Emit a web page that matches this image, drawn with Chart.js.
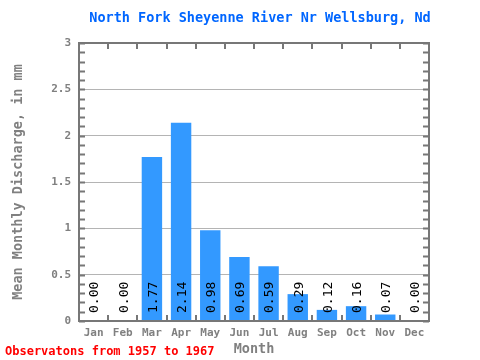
<!DOCTYPE html>
<html>
<head>
<meta charset="utf-8">
<script src="https://cdn.jsdelivr.net/npm/chart.js@4"></script>
<style>
  html, body { margin: 0; padding: 0; background: #fff; }
  #wrap { width: 480px; height: 360px; }
</style>
</head>
<body>
<div id="wrap"><canvas id="chart" width="480" height="360"></canvas></div>
<script>
const months = ['Jan', 'Feb', 'Mar', 'Apr', 'May', 'Jun', 'Jul', 'Aug', 'Sep', 'Oct', 'Nov', 'Dec'];
const discharge = [0.00, 0.00, 1.77, 2.14, 0.98, 0.69, 0.59, 0.29, 0.12, 0.16, 0.07, 0.00];
const yTicks = [0, 0.5, 1, 1.5, 2, 2.5, 3];

const titleText = 'North Fork Sheyenne River Nr Wellsburg, Nd';
const footText = 'Observatons from 1957 to 1967';
const mono = '"DejaVu Sans Mono", "Liberation Mono", monospace';
const axisGrey = '#777777';

// frame, minor ticks, bar values, title and footer
const extras = {
  id: 'extras',
  afterDatasetsDraw(chart) {
    const ctx = chart.ctx;
    const a = chart.chartArea;
    const y = chart.scales.y;

    ctx.save();
    ctx.strokeStyle = axisGrey;
    ctx.lineWidth = 2;
    // minor ticks every 0.1
    for (let i = 0; i <= 30; i++) {
      const py = Math.round(y.getPixelForValue(i / 10)) + 0.5;
      ctx.beginPath();
      ctx.moveTo(a.left, py); ctx.lineTo(a.left + 6, py);
      ctx.moveTo(a.right, py); ctx.lineTo(a.right - 6, py);
      ctx.stroke();
    }
    // category ticks
    const w = (a.right - a.left) / months.length;
    for (let i = 1; i < months.length; i++) {
      const px = Math.round(a.left + w * i);
      ctx.beginPath();
      ctx.moveTo(px, a.top); ctx.lineTo(px, a.top + 6);
      ctx.moveTo(px, a.bottom); ctx.lineTo(px, a.bottom - 6);
      ctx.stroke();
    }
    ctx.strokeRect(a.left, a.top, a.right - a.left, a.bottom - a.top);

    // bar values, read bottom to top
    const meta = chart.getDatasetMeta(0);
    ctx.fillStyle = '#000';
    ctx.font = '13px ' + mono;
    ctx.textAlign = 'left';
    ctx.textBaseline = 'middle';
    meta.data.forEach((bar, i) => {
      ctx.save();
      ctx.translate(bar.x + 1.5, a.bottom - 8);
      ctx.rotate(-Math.PI / 2);
      ctx.fillText(discharge[i].toFixed(2), 0, 0);
      ctx.restore();
    });

    // title
    ctx.fillStyle = '#0066ff';
    ctx.font = 'bold 13.5px ' + mono;
    ctx.textAlign = 'center';
    ctx.fillText(titleText, 260, 18);

    // footer
    ctx.fillStyle = '#ff0000';
    ctx.font = 'bold 12px ' + mono;
    ctx.textAlign = 'left';
    ctx.fillText(footText, 5, 352);
    ctx.restore();
  }
};

new Chart(document.getElementById('chart').getContext('2d'), {
  type: 'bar',
  data: {
    labels: months,
    datasets: [{
      data: discharge,
      backgroundColor: '#3399ff',
      borderWidth: 0,
      categoryPercentage: 0.7,
      barPercentage: 1
    }]
  },
  options: {
    responsive: false,
    animation: false,
    layout: { padding: { left: 0, top: 43, right: 51, bottom: 0 } },
    plugins: {
      legend: { display: false },
      tooltip: { enabled: false }
    },
    scales: {
      x: {
        afterFit: s => { s.height = 39; },
        grid: { display: false, drawTicks: false },
        border: { display: false },
        ticks: { color: '#808080', font: { family: mono, size: 11, weight: 'bold' }, padding: 6, maxRotation: 0 },
        title: { display: true, text: 'Month', color: '#808080', font: { family: mono, size: 13.5, weight: 'bold' }, padding: { top: 0, bottom: 2 } }
      },
      y: {
        min: 0,
        max: 3,
        afterFit: s => { s.width = 79; },
        afterBuildTicks: s => { s.ticks = yTicks.map(v => ({ value: v })); },
        grid: { color: '#b4b4b4', lineWidth: 1, drawTicks: false },
        border: { display: false },
        ticks: {
          color: '#808080',
          font: { family: mono, size: 11, weight: 'bold' },
          padding: 8,
          callback: v => String(v)
        },
        title: { display: true, text: 'Mean Monthly Discharge, in mm', color: '#808080', font: { family: mono, size: 13.5, weight: 'bold' }, padding: { top: 10, bottom: 0 } }
      }
    }
  },
  plugins: [extras]
});
</script>
</body>
</html>
